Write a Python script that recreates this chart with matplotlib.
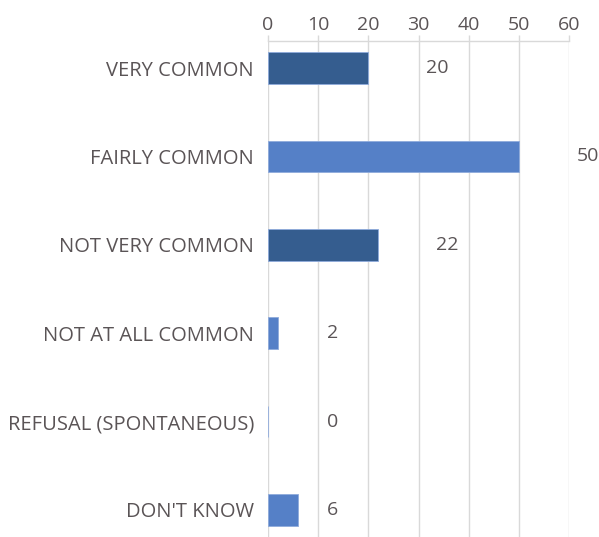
import matplotlib
matplotlib.use("Agg")
import matplotlib.pyplot as plt

categories = ["VERY COMMON", "FAIRLY COMMON", "NOT VERY COMMON",
              "NOT AT ALL COMMON", "REFUSAL (SPONTANEOUS)", "DON'T KNOW"]
values = [20, 50, 22, 2, 0, 6]
x_ticks = [0, 10, 20, 30, 40, 50, 60]

dark = "#355D8F"
light = "#5580C7"
colors = [dark, light, dark, light, light, light]
text_color = "#5A5456"
grid_color = "#D9D9D9"

plt.rcParams['font.family'] = ['Open Sans', 'DejaVu Sans']

fig = plt.figure(figsize=(5.99, 5.37), dpi=100)
ax = fig.add_axes([0.4474, 0.0, 0.95 - 0.4474, 1 - 41 / 537])

y = list(range(len(categories)))
ax.barh(y, values, height=0.36, color=colors, edgecolor="#8FABDC",
        linewidth=0.6, zorder=3)

for yi, v in zip(y, values):
    xpos = v + 11.5 if v >= 10 else 11.8
    ax.text(xpos, yi, str(v), va="center", ha="left", fontsize=14,
            color=text_color)

ax.set_xlim(0, 60)
ax.set_ylim(len(categories) - 1 + 0.306, -0.306)
ax.set_xticks(x_ticks)
ax.set_yticks(y)
ax.set_yticklabels(categories)
ax.xaxis.tick_top()
ax.tick_params(axis="x", colors=grid_color, labelcolor=text_color,
               labelsize=14, length=4, width=1, pad=1)
ax.tick_params(axis="y", length=0, labelcolor=text_color, labelsize=14.5,
               pad=10)
ax.grid(axis="x", color=grid_color, linewidth=1, zorder=0)
for s in ["left", "right", "bottom"]:
    ax.spines[s].set_visible(False)
ax.spines["top"].set_color(grid_color)
ax.spines["top"].set_linewidth(1)

fig.savefig("out.png", dpi=100)
